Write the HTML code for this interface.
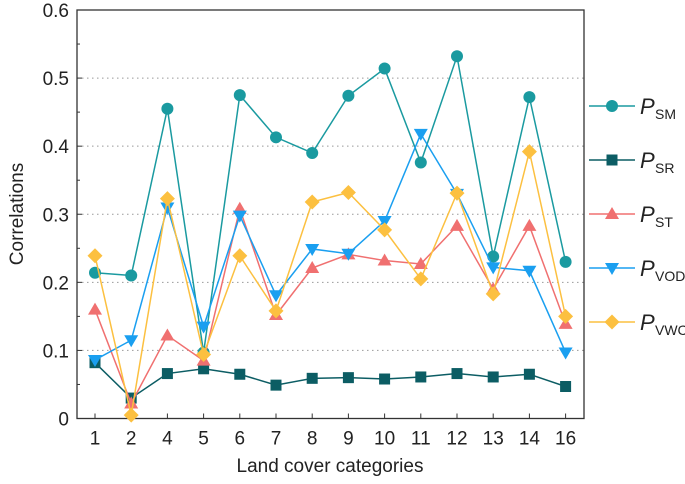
<!DOCTYPE html>
<html><head><meta charset="utf-8"><style>
body{margin:0;background:#fff}
text{font-family:"Liberation Sans",sans-serif;fill:#222}
</style></head><body>
<svg id="c" width="685" height="479"></svg>
<script>
const categories=["1","2","4","5","6","7","8","9","10","11","12","13","14","16"];
const yTicks=[0,0.1,0.2,0.3,0.4,0.5,0.6];
const sm=[0.214,0.210,0.455,0.097,0.475,0.413,0.390,0.474,0.514,0.376,0.532,0.238,0.472,0.230];
const sr=[0.082,0.030,0.066,0.073,0.065,0.049,0.059,0.060,0.058,0.061,0.066,0.061,0.065,0.047];
const st=[0.160,0.022,0.122,0.085,0.308,0.152,0.221,0.241,0.232,0.227,0.283,0.190,0.283,0.139];
const vod=[0.086,0.115,0.310,0.135,0.298,0.181,0.249,0.242,0.290,0.418,0.330,0.222,0.217,0.097];
const vwc=[0.239,0.005,0.323,0.094,0.239,0.158,0.318,0.332,0.277,0.205,0.331,0.183,0.392,0.150];
const seriesNames=["SM","SR","ST","VOD","VWC"];
const L=77,R=584,T=10,B=418.5,x0=95,dx=36.2;
const X=i=>x0+i*dx, Y=v=>B-(v/0.6)*(B-T);
const svg=document.getElementById('c');const NS="http://www.w3.org/2000/svg";
function mk(t,a,p){const e=document.createElementNS(NS,t);for(const k in a)e.setAttribute(k,a[k]);(p||svg).appendChild(e);return e;}
yTicks.forEach((v,i)=>{
 if(v>0&&v<0.6){const g=mk('line',{x1:L,x2:R,y1:Y(v),y2:Y(v),stroke:'#999','stroke-dasharray':'1.5 3.5','stroke-width':1});
 
 }
 const t=mk('line',{x1:L,x2:L+5,y1:Y(v),y2:Y(v),stroke:'#333'});
 
 
 if(i<6){const m=mk('line',{x1:L,x2:L+3,y1:Y(v+0.05),y2:Y(v+0.05),stroke:'#333'});
 
 }
 const l=mk('text',{x:L-8,y:Y(v)+7,'text-anchor':'end','font-size':19});l.textContent=String(v);
 
 
});
categories.forEach((c,i)=>{
 const t=mk('line',{x1:X(i),x2:X(i),y1:B,y2:B-5,stroke:'#333'});
 
 
 const l=mk('text',{x:X(i),y:B+26,'text-anchor':'middle','font-size':19});l.textContent=c;
 
 
});
const box=mk('rect',{x:L,y:T,width:R-L,height:B-T,fill:'none',stroke:'#333','stroke-width':1.3});


const xt=mk('text',{x:330,y:472,'text-anchor':'middle','font-size':19});xt.textContent='Land cover categories';


const yt=mk('text',{x:0,y:0,'text-anchor':'middle','font-size':19,transform:'translate(23,214) rotate(-90)'});yt.textContent='Correlations';


function marker(type,x,y,col,p){
 if(type==='circle')return mk('circle',{cx:x,cy:y,r:6,fill:col},p);
 if(type==='square')return mk('rect',{x:x-5.5,y:y-5.5,width:11,height:11,fill:col},p);
 if(type==='up')return mk('polygon',{points:`${x},${y-7} ${x-7},${y+5} ${x+7},${y+5}`,fill:col},p);
 if(type==='down')return mk('polygon',{points:`${x},${y+7} ${x-7},${y-5} ${x+7},${y-5}`,fill:col},p);
 return mk('polygon',{points:`${x},${y-7.5} ${x+7.5},${y} ${x},${y+7.5} ${x-7.5},${y}`,fill:col},p);
}
const defs=[[sm,'#1a9aa0','circle'],[sr,'#0c5d64','square'],[st,'#f07070','up'],[vod,'#1a9ff0','down'],[vwc,'#fcc040','diamond']];
defs.forEach(([d,col,type],k)=>{
 const g=mk('g',{});
 
 
 mk('polyline',{points:d.map((v,i)=>X(i)+','+Y(v)).join(' '),fill:'none',stroke:col,'stroke-width':1.5},g);
 d.forEach((v,i)=>{const m=marker(type,X(i),Y(v),col,g);
 
 });
 const ly=106+k*54;
 const lg=mk('g',{});
 
 
 mk('line',{x1:589,x2:635,y1:ly,y2:ly,stroke:col,'stroke-width':1.5},lg);
 marker(type,612,ly,col,lg);
 const t=mk('text',{x:640,y:ly+8,'font-size':22,'font-style':'italic'},lg);t.textContent='P';
 const s=mk('text',{x:655,y:ly+13,'font-size':14},lg);s.textContent=seriesNames[k];
});
</script>
</body></html>
